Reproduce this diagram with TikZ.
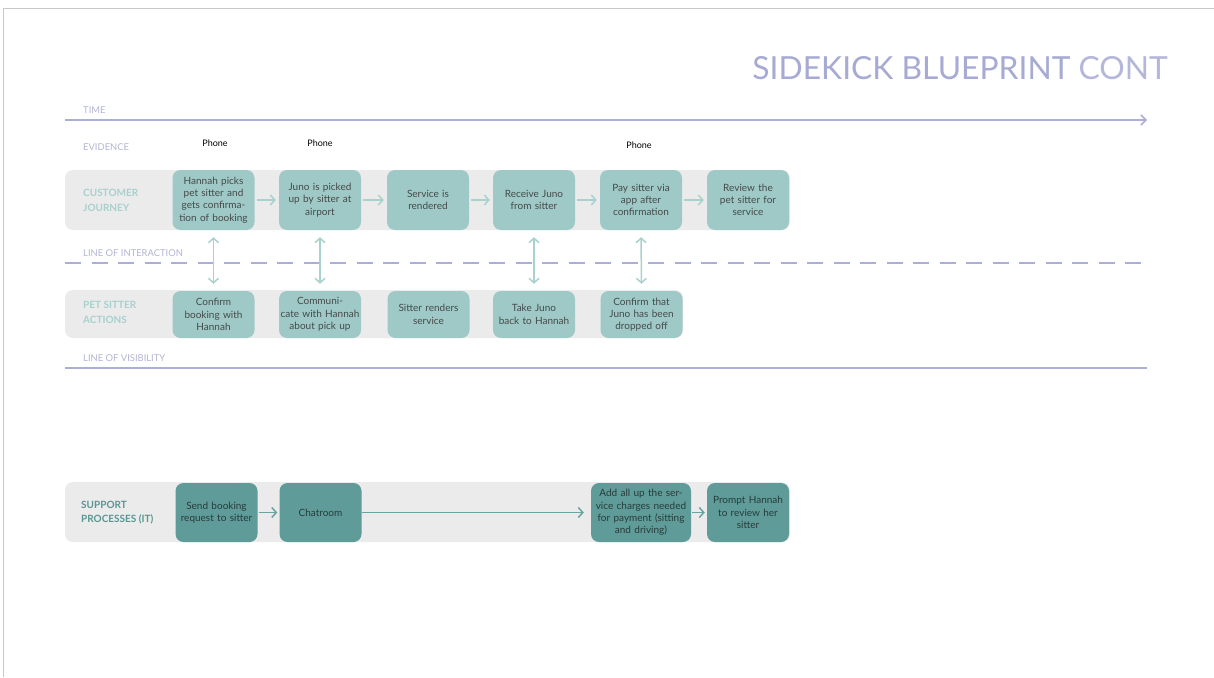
\documentclass[tikz,border=0pt]{standalone}
\usepackage{fontspec}
\setmainfont{Lato}
\usetikzlibrary{arrows.meta}
\definecolor{framec}{HTML}{C8C8C8}
\definecolor{lav}{HTML}{ABAED6}
\definecolor{lavtext}{HTML}{B3B5D2}
\definecolor{titlec}{HTML}{A7AAD3}
\definecolor{band}{HTML}{EBEBEB}
\definecolor{cjfill}{HTML}{9FC9C6}
\definecolor{lightarrow}{HTML}{A9D2CF}
\definecolor{cjlabel}{HTML}{A8D0CE}
\definecolor{darkfill}{HTML}{5F9B98}
\definecolor{darkarrow}{HTML}{6BA3A0}
\definecolor{splabel}{HTML}{5A9593}
\definecolor{boxtext}{HTML}{444A4A}
\definecolor{darktext}{HTML}{263D3C}
\tikzset{
  lanelabel/.style={anchor=west, align=left, font=\fontsize{9.4}{11}\selectfont, text=lavtext, inner sep=0},
  cjlab/.style={anchor=west, align=left, font=\bfseries\fontsize{10}{14.5}\selectfont, text=cjlabel, inner sep=0},
  splab/.style={anchor=west, align=left, font=\bfseries\fontsize{10}{14.5}\selectfont, text=splabel, inner sep=0},
  evid/.style={font=\fontsize{9}{10}\selectfont, text=black, inner sep=0},
  cjbox/.style={fill=cjfill, rounded corners=8pt, minimum width=82pt, minimum height=60pt, text width=81pt, inner sep=0.5pt, align=center, font=\fontsize{10}{12.3}\selectfont, text=boxtext},
  psbox/.style={cjbox, minimum height=47pt},
  spbox/.style={cjbox, fill=darkfill, minimum height=59pt, text=darktext},
  larrow/.style={draw=lightarrow, line width=1.5pt, -{Straight Barb[length=4.5pt,width=10pt,line width=1.5pt]}},
  dblarrow/.style={draw=lightarrow, line width=1.5pt, {Straight Barb[length=4.5pt,width=10pt,line width=1.5pt]}-{Straight Barb[length=4.5pt,width=10pt,line width=1.5pt]}},
  darrow/.style={draw=darkarrow, line width=1.5pt, -{Straight Barb[length=4.5pt,width=10pt,line width=1.5pt]}},
}
\begin{document}
\begin{tikzpicture}[x=1pt,y=-1pt]
\useasboundingbox (0,0) rectangle (1214,677);
\fill[white] (0,0) rectangle (1214,677);
% frame
\draw[framec, line width=1.5pt] (3.5,677) -- (3.5,8.5) -- (1214,8.5);
% title
\node[anchor=base east, inner sep=0, text=titlec, font=\fontsize{31.8}{38}\selectfont] (title) at (1168,79.5) {SIDEKICK BLUEPRINT \textcolor{titlec!85}{CONT}};
% time
\node[lanelabel] (ltime) at (83,110) {TIME};
\coordinate (t0) at (65,120);
\coordinate (t1) at (1147,120);
\draw[lav, line width=1.8pt, -{Straight Barb[length=5pt,width=10pt,line width=1.5pt]}] (t0) -- (t1);
% evidence
\node[lanelabel] (levid) at (83,147) {EVIDENCE};
\node[evid] (ph1) at (215,143) {Phone};
\node[evid] (ph2) at (320,143) {Phone};
\node[evid] (ph3) at (639,145) {Phone};
% customer journey band
\fill[band, rounded corners=8pt] (65,170) rectangle (790,230);
\node[cjlab] (lcj) at (83,200.5) {CUSTOMER\\JOURNEY};
\node[cjbox] (c1) at (213.5,200) {Hannah picks\\pet sitter and\\gets confirma-\\tion of booking};
\node[cjbox] (c2) at (320,200) {Juno is picked\\up by sitter at\\airport};
\node[cjbox] (c3) at (428,200) {Service is\\rendered};
\node[cjbox] (c4) at (534,200) {Receive Juno\\from sitter};
\node[cjbox] (c5) at (641,200) {Pay sitter via\\app after\\confirmation};
\node[cjbox] (c6) at (748,200) {Review the\\pet sitter for\\service};
\foreach \a/\b in {c1/c2,c2/c3,c3/c4,c4/c5,c5/c6}
  \draw[larrow, shorten <=2pt, shorten >=3pt] (\a) -- (\b);
% line of interaction
\node[lanelabel] (linter) at (83,253) {LINE OF INTERACTION};
\coordinate (i0) at (65,263);
\coordinate (i1) at (1147,263);
\draw[lav, line width=2pt, dash pattern=on 16pt off 10.5pt] (i0) -- (i1);
% pet sitter band
\fill[band, rounded corners=8pt] (65,290) rectangle (683,338);
\node[cjlab] (lps) at (83,312.5) {PET SITTER\\ACTIONS};
\node[psbox] (p1) at (213.5,314.5) {Confirm\\booking with\\Hannah};
\node[psbox] (p2) at (320,314.5) {Communi-\\cate with Hannah\\about pick up};
\node[psbox] (p3) at (428.5,314.5) {Sitter renders\\service};
\node[psbox] (p4) at (534,314.5) {Take Juno\\back to Hannah};
\node[psbox] (p5) at (641.5,314.5) {Confirm that\\Juno has been\\dropped off};
\foreach \a/\b in {c1/p1,c2/p2,c4/p4,c5/p5}
  \draw[dblarrow, shorten <=7pt, shorten >=7pt] (\a.south) -- (\b.north);
% line of visibility
\node[lanelabel] (lvis) at (83,358) {LINE OF VISIBILITY};
\coordinate (v0) at (65,368);
\coordinate (v1) at (1147,368);
\draw[lav, line width=2pt] (v0) -- (v1);
% support processes
\fill[band, rounded corners=8pt] (65,482) rectangle (790,542);
\node[splab] (lsp) at (81,512.5) {SUPPORT\\PROCESSES (IT)};
\node[spbox] (s1) at (216.5,512.5) {Send booking\\request to sitter};
\node[spbox] (s2) at (320.5,512.5) {Chatroom};
\node[spbox, minimum width=100pt, text width=99pt] (s3) at (641,512.5) {Add all up the ser-\\vice charges needed\\for payment (sitting\\and driving)};
\node[spbox] (s4) at (748,512.5) {Prompt Hannah\\to review her\\sitter};
\draw[darrow, shorten <=1pt, shorten >=2pt] (s1) -- (s2);
\draw[darrow, shorten >=7pt] (s2) -- (s3);
\draw[darrow, shorten <=1pt, shorten >=2pt] (s3) -- (s4);
\end{tikzpicture}
\end{document}
